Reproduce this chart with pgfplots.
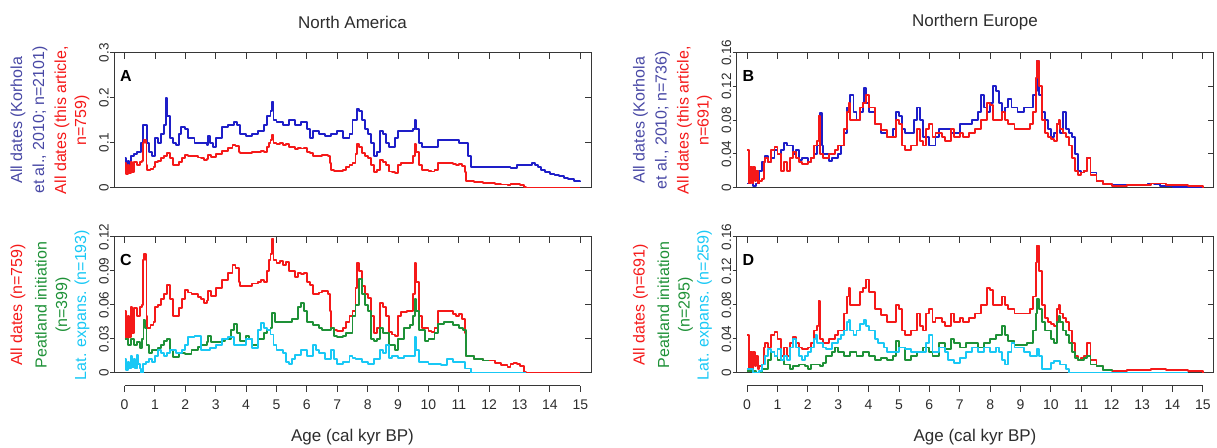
\documentclass[border=0pt]{standalone}
\usepackage{fontspec}
\setmainfont{Liberation Sans}
\usepackage{pgfplots}
\usepackage{pgfplotstable}
\pgfplotsset{compat=1.18}
\definecolor{cblue}{RGB}{30,30,200}
\definecolor{lblue}{RGB}{72,72,165}
\definecolor{cred}{RGB}{245,25,25}
\definecolor{cgreen}{RGB}{30,145,55}
\definecolor{ccyan}{RGB}{25,200,245}
\definecolor{framec}{RGB}{55,55,55}
\definecolor{textc}{RGB}{45,45,45}
\newcommand{\tickfont}{\fontsize{13.5bp}{15bp}\selectfont}
\newcommand{\labfont}{\fontsize{16bp}{18bp}\selectfont}
\newcommand{\titfont}{\fontsize{17bp}{19bp}\selectfont}

\pgfplotstableread{
x y
0 0.055
0.05 0.03
0.1 0.05
0.15 0.032
0.2 0.058
0.25 0.035
0.3 0.057
0.4 0.05
0.5 0.058
0.58 0.06
0.6 0.1
0.65 0.105
0.7 0.1
0.72 0.05
0.75 0.04
0.85 0.042
0.95 0.045
1.0 0.058
1.1 0.06
1.2 0.065
1.3 0.07
1.4 0.078
1.5 0.065
1.6 0.05
1.7 0.05
1.8 0.057
1.9 0.065
2.0 0.073
2.1 0.071
2.2 0.07
2.4 0.067
2.5 0.065
2.6 0.062
2.7 0.064
2.75 0.072
2.85 0.068
3.0 0.075
3.2 0.082
3.4 0.088
3.55 0.095
3.65 0.093
3.75 0.08
3.8 0.077
4.0 0.077
4.2 0.079
4.4 0.08
4.5 0.082
4.6 0.08
4.7 0.09
4.75 0.1
4.8 0.105
4.85 0.118
4.9 0.1
5.0 0.097
5.1 0.099
5.2 0.095
5.3 0.098
5.4 0.09
5.5 0.09
5.6 0.085
5.7 0.088
5.8 0.087
5.9 0.088
6.0 0.08
6.1 0.078
6.2 0.07
6.4 0.071
6.5 0.072
6.7 0.07
6.75 0.055
6.8 0.04
6.9 0.038
7.0 0.037
7.2 0.04
7.3 0.045
7.4 0.05
7.5 0.055
7.6 0.075
7.65 0.097
7.7 0.09
7.8 0.077
7.9 0.07
8.0 0.066
8.1 0.05
8.2 0.035
8.3 0.04
8.4 0.062
8.5 0.058
8.6 0.05
8.7 0.036
8.8 0.034
8.9 0.033
9.0 0.05
9.1 0.054
9.3 0.055
9.45 0.055
9.5 0.07
9.55 0.097
9.6 0.08
9.7 0.05
9.8 0.04
10.0 0.037
10.1 0.036
10.2 0.04
10.3 0.055
10.6 0.055
10.8 0.052
10.9 0.05
11.0 0.052
11.1 0.048
11.2 0.035
11.25 0.015
11.5 0.012
11.8 0.011
12.0 0.011
12.2 0.009
12.4 0.007
12.6 0.005
12.7 0.008
12.8 0.009
12.9 0.008
13.0 0.006
13.15 0.001
13.2 0
15 0
}\redNA

\pgfplotstableread{
x y
0 0.065
0.05 0.045
0.1 0.06
0.15 0.04
0.2 0.07
0.3 0.075
0.4 0.08
0.5 0.08
0.55 0.1
0.6 0.14
0.7 0.14
0.75 0.1
0.8 0.08
0.9 0.07
1.0 0.11
1.1 0.1
1.2 0.12
1.3 0.14
1.35 0.2
1.4 0.16
1.5 0.11
1.6 0.1
1.7 0.095
1.8 0.12
1.85 0.135
2.0 0.13
2.1 0.11
2.3 0.1
2.5 0.1
2.7 0.095
2.75 0.115
2.8 0.1
2.9 0.09
3.0 0.11
3.2 0.135
3.4 0.14
3.6 0.145
3.7 0.14
3.8 0.12
4.0 0.115
4.2 0.12
4.4 0.125
4.6 0.14
4.7 0.16
4.8 0.17
4.85 0.19
4.9 0.15
5.0 0.145
5.2 0.14
5.4 0.15
5.6 0.14
5.8 0.145
6.0 0.13
6.1 0.11
6.2 0.125
6.4 0.12
6.6 0.115
6.8 0.12
7.0 0.125
7.2 0.11
7.4 0.12
7.5 0.15
7.6 0.15
7.65 0.175
7.7 0.17
7.8 0.15
7.9 0.13
8.0 0.12
8.1 0.1
8.2 0.07
8.3 0.08
8.4 0.125
8.5 0.12
8.6 0.1
8.7 0.09
8.9 0.11
9.0 0.125
9.3 0.125
9.5 0.13
9.55 0.15
9.6 0.13
9.7 0.1
9.8 0.09
10.0 0.09
10.2 0.09
10.3 0.105
10.6 0.105
11.0 0.1
11.2 0.1
11.3 0.07
11.4 0.045
12.0 0.045
12.7 0.043
12.9 0.05
13.2 0.05
13.4 0.055
13.5 0.05
13.6 0.045
13.7 0.04
13.85 0.035
14.0 0.03
14.15 0.028
14.3 0.025
14.45 0.022
14.6 0.02
14.8 0.015
15.0 0.012
}\blueNA

\pgfplotstableread{
x y
0 0.03
0.1 0.025
0.2 0.03
0.3 0.025
0.4 0.027
0.5 0.022
0.58 0.03
0.62 0.047
0.68 0.04
0.72 0.025
0.8 0.018
0.9 0.02
1.0 0.02
1.1 0.022
1.2 0.025
1.3 0.028
1.4 0.03
1.5 0.02
1.6 0.014
1.8 0.018
2.0 0.017
2.2 0.02
2.4 0.023
2.5 0.025
2.7 0.027
2.75 0.033
2.85 0.027
3.0 0.027
3.2 0.028
3.3 0.03
3.5 0.038
3.6 0.043
3.7 0.035
3.8 0.028
4.0 0.033
4.1 0.03
4.2 0.025
4.4 0.03
4.6 0.035
4.7 0.038
4.8 0.04
4.85 0.053
4.95 0.045
5.0 0.045
5.3 0.045
5.5 0.048
5.7 0.058
5.8 0.062
5.9 0.055
6.0 0.045
6.2 0.042
6.4 0.04
6.5 0.038
6.7 0.038
6.8 0.04
6.9 0.033
7.0 0.032
7.2 0.033
7.3 0.035
7.5 0.05
7.6 0.06
7.7 0.083
7.8 0.07
7.9 0.06
8.0 0.055
8.1 0.03
8.2 0.028
8.3 0.03
8.4 0.04
8.5 0.035
8.7 0.025
8.9 0.02
9.0 0.03
9.2 0.04
9.4 0.042
9.5 0.05
9.55 0.065
9.6 0.055
9.7 0.038
9.9 0.028
10.0 0.03
10.1 0.03
10.2 0.035
10.3 0.043
10.5 0.045
10.8 0.042
11.0 0.04
11.15 0.038
11.25 0.015
11.5 0.012
11.8 0.011
12.0 0.011
}\greenNA

\pgfplotstableread{
x y
0 0.012
0.05 0.003
0.1 0.01
0.15 0.004
0.2 0.015
0.25 0.005
0.3 0.012
0.35 0.004
0.4 0.016
0.45 0.008
0.5 0.004
0.55 0.0
0.6 0.008
0.7 0.01
0.8 0.012
0.9 0.01
1.0 0.015
1.1 0.02
1.2 0.018
1.3 0.015
1.4 0.018
1.5 0.02
1.7 0.018
1.9 0.02
2.0 0.025
2.1 0.032
2.3 0.033
2.4 0.033
2.5 0.02
2.8 0.022
3.0 0.025
3.2 0.03
3.4 0.032
3.6 0.025
3.8 0.025
4.0 0.03
4.2 0.022
4.4 0.038
4.5 0.044
4.6 0.04
4.7 0.038
4.8 0.034
4.9 0.025
5.0 0.02
5.2 0.018
5.3 0.01
5.4 0.008
5.5 0.012
5.6 0.016
5.8 0.02
6.0 0.015
6.2 0.025
6.3 0.02
6.4 0.018
6.6 0.012
6.8 0.02
6.9 0.012
7.0 0.008
7.2 0.01
7.4 0.015
7.5 0.013
7.6 0.012
7.8 0.01
8.0 0.008
8.2 0.012
8.4 0.02
8.5 0.018
8.6 0.025
8.7 0.013
8.8 0.015
9.0 0.013
9.2 0.015
9.5 0.015
9.55 0.032
9.6 0.02
9.7 0.01
10.0 0.008
10.4 0.007
10.6 0.012
10.8 0.01
11.0 0.01
11.2 0.004
11.4 0.0
13.2 0.0
}\cyanNA

\pgfplotstableread{
x y
0 0.045
0.05 0.005
0.1 0.025
0.15 0.005
0.2 0.025
0.25 0.008
0.3 0.02
0.35 0.005
0.4 0.008
0.5 0.01
0.55 0.03
0.6 0.035
0.7 0.03
0.8 0.045
0.9 0.048
1.0 0.04
1.1 0.02
1.2 0.03
1.3 0.02
1.4 0.035
1.5 0.042
1.6 0.035
1.7 0.03
1.8 0.028
2.0 0.03
2.1 0.035
2.2 0.05
2.3 0.055
2.35 0.085
2.4 0.04
2.5 0.035
2.7 0.04
2.9 0.045
3.0 0.05
3.2 0.07
3.3 0.09
3.35 0.1
3.4 0.08
3.5 0.08
3.7 0.095
3.8 0.1
3.9 0.11
4.0 0.095
4.2 0.075
4.4 0.068
4.6 0.06
4.8 0.06
4.9 0.08
5.0 0.075
5.1 0.05
5.2 0.045
5.4 0.05
5.6 0.07
5.7 0.055
5.8 0.05
5.9 0.07
6.0 0.075
6.1 0.06
6.2 0.065
6.4 0.06
6.5 0.055
6.7 0.07
6.8 0.06
7.0 0.065
7.1 0.06
7.3 0.065
7.5 0.07
7.7 0.08
7.9 0.1
8.0 0.098
8.1 0.08
8.3 0.08
8.4 0.09
8.5 0.08
8.6 0.075
8.8 0.07
9.0 0.07
9.2 0.07
9.3 0.075
9.4 0.09
9.5 0.13
9.55 0.15
9.6 0.12
9.7 0.08
9.8 0.065
9.9 0.06
10.0 0.058
10.1 0.055
10.2 0.075
10.25 0.08
10.3 0.07
10.4 0.065
10.5 0.06
10.6 0.05
10.7 0.035
10.8 0.02
10.9 0.015
11.0 0.018
11.1 0.02
11.2 0.035
11.3 0.015
11.5 0.008
11.7 0.004
12.0 0.002
12.5 0.003
13.0 0.003
13.3 0.005
13.5 0.005
13.8 0.003
14.0 0.003
14.5 0.002
15 0.0
}\redNE

\pgfplotstableread{
x y
0 0.005
0.1 0.01
0.2 0.002
0.3 0.005
0.4 0.02
0.5 0.03
0.6 0.038
0.7 0.03
0.8 0.035
0.9 0.045
1.0 0.04
1.1 0.045
1.2 0.053
1.3 0.05
1.5 0.04
1.6 0.045
1.7 0.033
1.8 0.035
2.0 0.03
2.1 0.035
2.2 0.04
2.3 0.05
2.4 0.088
2.45 0.05
2.5 0.04
2.7 0.032
2.8 0.035
3.0 0.04
3.1 0.05
3.2 0.065
3.3 0.095
3.4 0.11
3.5 0.09
3.6 0.08
3.7 0.09
3.8 0.1
3.85 0.118
3.9 0.1
4.0 0.09
4.2 0.075
4.4 0.065
4.6 0.06
4.8 0.07
4.9 0.09
5.0 0.085
5.1 0.07
5.2 0.065
5.4 0.065
5.5 0.08
5.6 0.095
5.7 0.08
5.8 0.06
6.0 0.05
6.2 0.06
6.3 0.07
6.5 0.07
6.7 0.065
7.0 0.075
7.2 0.075
7.4 0.08
7.6 0.09
7.7 0.11
7.8 0.095
7.9 0.09
8.0 0.1
8.1 0.12
8.2 0.115
8.3 0.1
8.4 0.09
8.5 0.095
8.6 0.105
8.7 0.095
8.9 0.09
9.1 0.095
9.3 0.095
9.4 0.11
9.5 0.115
9.55 0.15
9.6 0.11
9.7 0.09
9.8 0.08
9.9 0.07
10.0 0.06
10.1 0.065
10.2 0.075
10.3 0.065
10.4 0.09
10.5 0.07
10.6 0.065
10.7 0.06
10.8 0.04
10.9 0.02
11.0 0.018
11.1 0.02
11.2 0.035
11.3 0.018
11.5 0.008
11.7 0.004
12.0 0.003
12.5 0.003
13.0 0.003
13.2 0.005
13.4 0.004
13.6 0.002
14.0 0.001
14.5 0.0
15 0.0
}\blueNE

\pgfplotstableread{
x y
0 0.002
0.3 0.0
0.5 0.005
0.7 0.015
0.8 0.025
0.9 0.02
1.0 0.015
1.2 0.01
1.4 0.005
1.5 0.008
1.7 0.01
1.9 0.008
2.0 0.005
2.1 0.01
2.3 0.01
2.4 0.008
2.5 0.012
2.6 0.02
2.8 0.025
2.9 0.03
3.0 0.025
3.2 0.02
3.4 0.025
3.6 0.02
3.8 0.025
4.0 0.02
4.2 0.015
4.4 0.018
4.6 0.015
4.8 0.02
4.9 0.038
5.0 0.03
5.2 0.015
5.4 0.02
5.6 0.025
5.8 0.03
6.0 0.025
6.1 0.02
6.3 0.035
6.5 0.028
6.7 0.04
6.8 0.035
7.0 0.03
7.2 0.035
7.4 0.035
7.6 0.03
7.8 0.035
8.0 0.04
8.2 0.045
8.4 0.055
8.5 0.045
8.6 0.038
8.8 0.033
9.0 0.033
9.2 0.035
9.4 0.05
9.5 0.07
9.55 0.087
9.6 0.075
9.7 0.06
9.8 0.05
10.0 0.04
10.1 0.035
10.2 0.06
10.25 0.067
10.3 0.06
10.4 0.05
10.5 0.045
10.6 0.035
10.7 0.025
10.8 0.018
10.9 0.015
11.0 0.015
11.1 0.018
11.2 0.02
11.3 0.01
11.5 0.008
11.7 0.004
12.0 0.002
}\greenNE

\pgfplotstableread{
x y
0 0.005
0.2 0.0
0.4 0.002
0.5 0.01
0.6 0.02
0.7 0.028
0.8 0.025
0.9 0.02
1.0 0.028
1.1 0.015
1.2 0.02
1.3 0.015
1.4 0.03
1.5 0.04
1.6 0.03
1.7 0.02
1.8 0.015
1.9 0.02
2.0 0.025
2.1 0.03
2.2 0.04
2.25 0.045
2.3 0.035
2.5 0.03
2.6 0.028
2.8 0.035
3.0 0.04
3.1 0.045
3.2 0.05
3.3 0.06
3.35 0.062
3.4 0.05
3.5 0.045
3.6 0.05
3.7 0.058
3.85 0.062
3.9 0.055
4.0 0.05
4.2 0.04
4.3 0.035
4.5 0.03
4.6 0.025
4.8 0.025
5.0 0.03
5.2 0.028
5.4 0.025
5.6 0.025
5.8 0.025
5.9 0.035
6.0 0.045
6.1 0.025
6.3 0.03
6.5 0.025
6.6 0.015
6.8 0.012
7.0 0.018
7.2 0.025
7.4 0.03
7.6 0.025
7.8 0.03
8.0 0.025
8.2 0.03
8.3 0.025
8.4 0.015
8.5 0.01
8.6 0.025
8.7 0.035
8.8 0.03
9.0 0.03
9.1 0.025
9.3 0.02
9.5 0.02
9.55 0.028
9.6 0.02
9.7 0.005
9.9 0.005
10.0 0.012
10.1 0.014
10.3 0.01
10.5 0.005
10.6 0.0
14.5 0.0
}\cyanNE

\pgfplotsset{
  panel/.style={scale only axis, width=477bp, xmin=-0.35, xmax=15.35,
    anchor=south west, axis line style={draw=framec, line width=1bp, -},
    every tick/.style={draw=framec, line width=1bp},
    scaled y ticks=false, scaled x ticks=false},
  boxax/.style={panel, xtick={0,1,...,15}, xtick pos=right, ytick pos=right,
    tick align=inside, major tick length=6bp, xticklabels={}, yticklabels={},
    clip=true},
  leftax/.style={panel, axis x line=none, axis y line*=left, ytick pos=left,
    tick align=outside, major tick length=4bp,
    yticklabel style={rotate=90, anchor=south, inner sep=1bp, font=\tickfont, text=textc}},
  botax/.style={scale only axis, width=455.7bp, height=20bp, xmin=0, xmax=15,
    ymin=0, ymax=1, anchor=south west, axis y line=none, axis x line*=bottom,
    axis line style={draw=framec, line width=1bp, -},
    every tick/.style={draw=framec, line width=1bp},
    xtick={0,1,...,15}, xticklabels={0,1,2,3,4,5,6,7,8,9,10,11,12,13,14,15},
    tick align=outside, major tick length=6bp,
    xticklabel style={anchor=north, inner sep=0pt, yshift=-8bp, text=textc, font=\fontsize{14bp}{16bp}\selectfont}},
  curve/.style={line width=1.9bp, line join=round, const plot},
}

\begin{document}
\begin{tikzpicture}
\useasboundingbox (0,0) rectangle (1217bp,448bp);

% ---------- Panel A ----------
\begin{axis}[boxax, at={(114bp,260.3bp)}, height=135bp, ymin=0, ymax=0.3, ytick={0,0.1,0.2,0.3}]
\addplot[curve, cblue] table {\blueNA};
\addplot[curve, cred] table {\redNA};
\end{axis}
\begin{axis}[leftax, at={(114bp,260.3bp)}, height=135bp, ymin=0, ymax=0.3, ytick={0,0.1,0.2,0.3}, yticklabels={0,0.1,0.2,0.3}]
\addplot[draw=none] coordinates {(0,0)};
\end{axis}

% ---------- Panel B ----------
\begin{axis}[boxax, at={(736.5bp,260.3bp)}, height=135bp, ymin=0, ymax=0.16, ytick={0,0.04,0.08,0.12,0.16}]
\addplot[curve, cblue] table {\blueNE};
\addplot[curve, cred] table {\redNE};
\end{axis}
\begin{axis}[leftax, at={(736.5bp,260.3bp)}, height=135bp, ymin=0, ymax=0.16, ytick={0,0.04,0.08,0.12,0.16}, yticklabels={0,0.04,0.08,0.12,0.16}]
\addplot[draw=none] coordinates {(0,0)};
\end{axis}

% ---------- Panel C ----------
\begin{axis}[boxax, at={(114bp,75bp)}, height=136bp, ymin=0, ymax=0.12, ytick={0,0.03,0.06,0.09,0.12}]
\addplot[curve, cred] table {\redNA};
\addplot[curve, cgreen] table {\greenNA};
\addplot[curve, ccyan] table {\cyanNA};
\end{axis}
\begin{axis}[leftax, at={(114bp,75bp)}, height=136bp, ymin=0, ymax=0.12, ytick={0,0.03,0.06,0.09,0.12}, yticklabels={0,0.03,0.06,0.09,0.12}]
\addplot[draw=none] coordinates {(0,0)};
\end{axis}
\begin{axis}[botax, at={(124.6bp,62bp)}]
\addplot[draw=none] coordinates {(0,0)};
\end{axis}

% ---------- Panel D ----------
\begin{axis}[boxax, at={(736.5bp,75bp)}, height=136bp, ymin=0, ymax=0.16, ytick={0,0.04,0.08,0.12,0.16}]
\addplot[curve, cred] table {\redNE};
\addplot[curve, cgreen] table {\greenNE};
\addplot[curve, ccyan] table {\cyanNE};
\end{axis}
\begin{axis}[leftax, at={(736.5bp,75bp)}, height=136bp, ymin=0, ymax=0.16, ytick={0,0.04,0.08,0.12,0.16}, yticklabels={0,0.04,0.08,0.12,0.16}]
\addplot[draw=none] coordinates {(0,0)};
\end{axis}
\begin{axis}[botax, at={(747.1bp,62bp)}]
\addplot[draw=none] coordinates {(0,0)};
\end{axis}

% ---------- Titles and labels ----------
\node[font=\titfont, text=textc] at (352.5bp,426bp) {North America};
\node[font=\titfont, text=textc] at (975bp,426bp) {Northern Europe};
\node[font=\titfont, text=textc] at (352.5bp,11bp) {Age (cal kyr BP)};
\node[font=\titfont, text=textc] at (975bp,11bp) {Age (cal kyr BP)};

\node[font=\fontsize{16bp}{18bp}\bfseries] at (126bp,372bp) {A};
\node[font=\fontsize{16bp}{18bp}\bfseries] at (748.5bp,372bp) {B};
\node[font=\fontsize{16bp}{18bp}\bfseries] at (126bp,188bp) {C};
\node[font=\fontsize{16bp}{18bp}\bfseries] at (748.5bp,188bp) {D};

% A labels
\node[rotate=90, font=\labfont, text=lblue] at (18bp,327.8bp) {All dates (Korhola};
\node[rotate=90, font=\labfont, text=lblue] at (40bp,327.8bp) {et al., 2010; n=2101)};
\node[rotate=90, font=\labfont, text=cred] at (62bp,327.8bp) {All dates (this article,};
\node[rotate=90, font=\labfont, text=cred] at (82bp,327.8bp) {n=759)};
% B labels
\node[rotate=90, font=\labfont, text=lblue] at (640.5bp,327.8bp) {All dates (Korhola};
\node[rotate=90, font=\labfont, text=lblue] at (662.5bp,327.8bp) {et al., 2010; n=736)};
\node[rotate=90, font=\labfont, text=cred] at (684.5bp,327.8bp) {All dates (this article,};
\node[rotate=90, font=\labfont, text=cred] at (704.5bp,327.8bp) {n=691)};
% C labels
\node[rotate=90, font=\labfont, text=cred] at (18bp,143bp) {All dates (n=759)};
\node[rotate=90, font=\labfont, text=cgreen] at (41bp,143bp) {Peatland initiation};
\node[rotate=90, font=\labfont, text=cgreen] at (63bp,143bp) {(n=399)};
\node[rotate=90, font=\labfont, text=ccyan] at (82bp,143bp) {Lat. expans. (n=193)};
% D labels
\node[rotate=90, font=\labfont, text=cred] at (640.5bp,143bp) {All dates (n=691)};
\node[rotate=90, font=\labfont, text=cgreen] at (663.5bp,143bp) {Peatland initiation};
\node[rotate=90, font=\labfont, text=cgreen] at (685.5bp,143bp) {(n=295)};
\node[rotate=90, font=\labfont, text=ccyan] at (704.5bp,143bp) {Lat. expans. (n=259)};
\end{tikzpicture}
\end{document}
